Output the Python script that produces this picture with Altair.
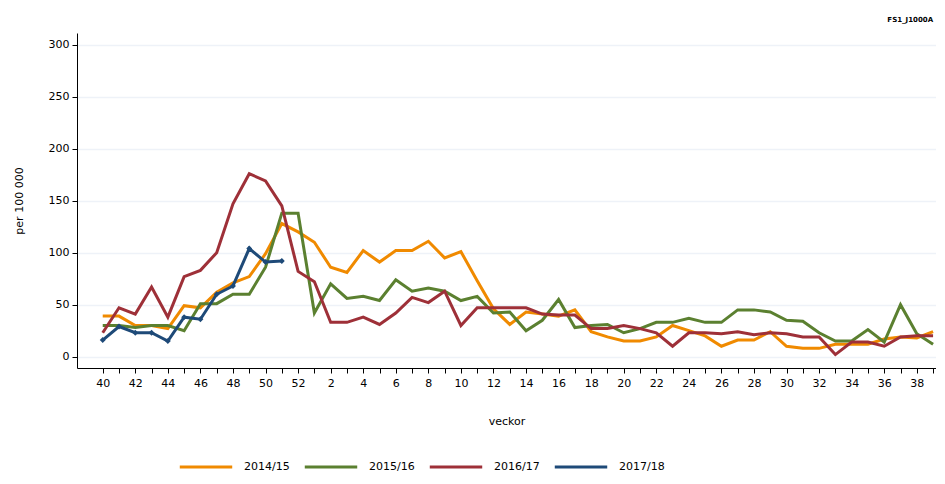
import altair as alt
import pandas as pd

weeks = list(range(40, 53)) + list(range(1, 40))

s2014 = [39, 39, 30, 30, 27, 49, 47, 62, 71, 77, 99, 128, 120,
         110, 86, 81, 102, 91, 102, 102, 111, 95, 101, 73, 46, 31, 43, 41, 39, 45,
         24, 19, 15, 15, 19, 30, 25, 20, 10, 16, 16, 24, 10, 8, 8, 12, 12, 12, 17, 19, 18, 24]
s2015 = [30, 30, 28, 30, 30, 25, 51, 51, 60, 60, 86, 138, 138,
         42, 70, 56, 58, 54, 74, 63, 66, 63, 54, 58, 42, 43, 25, 35, 55, 28,
         30, 31, 23, 27, 33, 33, 37, 33, 33, 45, 45, 43, 35, 34, 23, 15, 15, 26, 14, 50, 22, 12]
s2016 = [23, 47, 41, 67, 38, 77, 83, 100, 147, 176, 169, 145, 82,
         72, 33, 33, 38, 31, 42, 57, 52, 63, 30, 47, 47, 47, 47, 41, 40, 40,
         27, 27, 30, 27, 23, 10, 23, 23, 22, 24, 21, 23, 22, 19, 19, 2, 14, 14, 10, 19, 20, 20]
s2017 = [16, 29, 23, 23, 15, 38, 36, 60, 68, 104, 91, 92]

seasons = ["2014/15", "2015/16", "2016/17", "2017/18"]
colors = ["#f08a00", "#5b8030", "#9e3038", "#1e4a78"]

rows = []
for name, vals in zip(seasons, [s2014, s2015, s2016, s2017]):
    for i, v in enumerate(vals):
        rows.append({"idx": i, "week": weeks[i], "season": name, "value": v})
df = pd.DataFrame(rows)

font = "DejaVu Sans"

x = alt.X("idx:Q",
          scale=alt.Scale(domain=[-1.58, 51.18], nice=False, zero=False),
          axis=alt.Axis(title="veckor", values=list(range(52)),
                        labelExpr="datum.value % 2 == 0 ? (datum.value < 13 ? datum.value + 40 : datum.value - 12) : ''",
                        grid=False, domainColor="black", tickColor="black", tickSize=5,
                        labelFontSize=11, labelColor="black", labelFont=font, labelPadding=4,
                        titleFont=font, titleFontSize=11, titleFontWeight="normal", titlePadding=27,
                        titleColor="black", labelFlush=False))
y = alt.Y("value:Q",
          scale=alt.Scale(domain=[-10.9, 311.3], nice=False, zero=False),
          axis=alt.Axis(title="per 100 000", values=[0, 50, 100, 150, 200, 250, 300],
                        grid=True, gridColor="#eef2f8", gridWidth=1.5,
                        domainColor="black", tickColor="black", tickSize=5,
                        labelFontSize=11, labelColor="black", labelFont=font, labelPadding=3,
                        titleFont=font, titleFontSize=11, titleFontWeight="normal", titlePadding=24,
                        titleColor="black"))

color = alt.Color("season:N",
                  scale=alt.Scale(domain=seasons, range=colors),
                  legend=alt.Legend(title=None, orient="none", legendX=101, legendY=406,
                                    direction="horizontal", symbolType="stroke",
                                    symbolSize=2750, symbolStrokeWidth=3,
                                    labelFontSize=11, labelFont=font, labelColor="black",
                                    columnPadding=8, labelOffset=10))

lines = alt.Chart(df).mark_line(strokeWidth=3).encode(x=x, y=y, color=color, detail="season:N")

pts = alt.Chart(df).transform_filter(alt.datum.season == "2017/18").mark_point(
    shape="diamond", filled=True, size=35, opacity=1).encode(
    x=x, y=y, color=alt.Color("season:N", scale=alt.Scale(domain=seasons, range=colors), legend=None))

chart = alt.layer(lines, pts).properties(
    width=859, height=335,
    autosize=alt.AutoSizeParams(type="none"),
    padding={"left": 69, "top": 25, "right": 0, "bottom": 108},
    title=alt.TitleParams("FS1_J1000A", anchor="end", fontSize=7, fontWeight="bold",
                          font=font, color="black", offset=10, dx=-6),
).configure_view(stroke=None)

chart.save("out.html", embed_options={"renderer": "svg", "actions": False})
